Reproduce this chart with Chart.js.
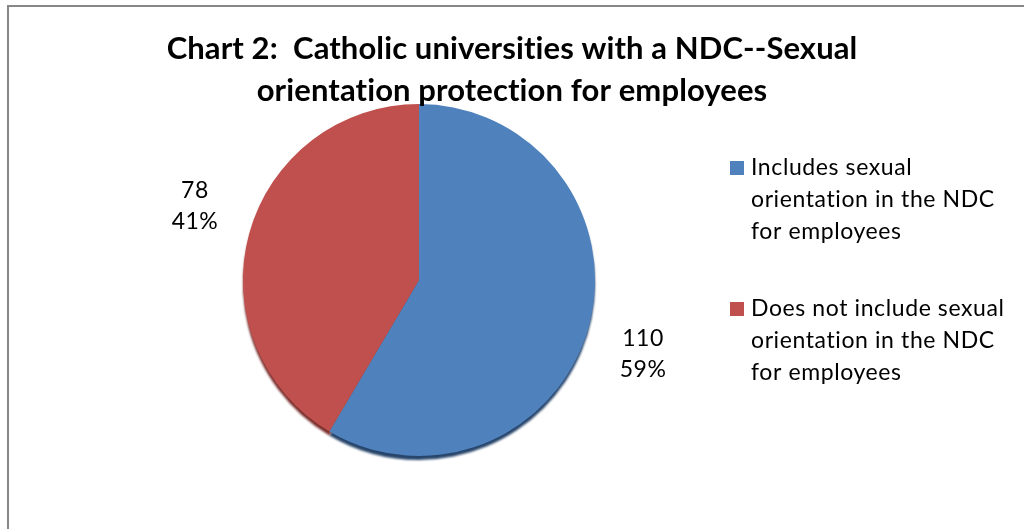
<!DOCTYPE html>
<html>
<head>
<meta charset="utf-8">
<script src="https://cdn.jsdelivr.net/npm/chart.js@4.4.0/dist/chart.umd.min.js"></script>
<style>
  html, body { margin: 0; padding: 0; background: #fff; }
  #wrap { position: relative; width: 1024px; height: 529px; overflow: hidden; }
  #frame { position: absolute; left: 7px; top: 5px; width: 1100px; height: 600px;
           border-left: 2px solid #878787; border-top: 2px solid #878787; pointer-events: none; }
</style>
</head>
<body>
<div id="wrap">
  <canvas id="pieChart"></canvas>
  <div id="frame"></div>
</div>
<script>
const titleLines = ['Chart 2:  Catholic universities with a NDC--Sexual', 'orientation protection for employees'];
const categories = [
  ['Includes sexual', 'orientation in the NDC', 'for employees'],
  ['Does not include sexual', 'orientation in the NDC', 'for employees']
];
const counts = [110, 78];
const sliceColors = ['#4F81BD', '#C0504D'];
const rimColors = ['#27456B', '#7A2E2C'];

const FONT = 'Lato, "Open Sans", sans-serif';
const total = counts.reduce((a, b) => a + b, 0);

// darker copy of each slice, nudged down, so the pie gets a thin 3D edge
const rimPlugin = {
    id: 'rim',
    beforeDatasetsDraw(chart) {
        const ctx = chart.ctx;
        const meta = chart.getDatasetMeta(0);
        ctx.save();
        ctx.filter = 'blur(1px)';
        meta.data.forEach((arc, i) => {
            ctx.beginPath();
            ctx.moveTo(arc.x, arc.y + 4);
            ctx.arc(arc.x, arc.y + 4, arc.outerRadius, arc.startAngle, arc.endAngle);
            ctx.closePath();
            ctx.fillStyle = rimColors[i];
            ctx.fill();
        });
        ctx.restore();
    }
};

// value + percent outside each slice (nudged a little clockwise, like Excel's best fit)
const sliceLabels = {
    id: 'sliceLabels',
    afterDatasetsDraw(chart) {
        const ctx = chart.ctx;
        const meta = chart.getDatasetMeta(0);
        ctx.save();
        ctx.font = '23px ' + FONT;
        ctx.letterSpacing = '0.5px';
        ctx.fillStyle = '#000';
        ctx.textAlign = 'center';
        ctx.textBaseline = 'middle';
        meta.data.forEach((arc, i) => {
            const mid = (arc.startAngle + arc.endAngle) / 2 + 3 * Math.PI / 180;
            const r = arc.outerRadius + 60;
            const x = arc.x + Math.cos(mid) * r;
            const y = arc.y + Math.sin(mid) * r;
            const pct = Math.round(counts[i] / total * 100) + '%';
            ctx.fillText(String(counts[i]), x, y - 15.5);
            ctx.fillText(pct, x, y + 15.5);
        });
        ctx.restore();
    }
};

// title and the wrapped legend on the right
const decor = {
    id: 'decor',
    afterDraw(chart) {
        const ctx = chart.ctx;
        ctx.save();
        ctx.fillStyle = '#000';
        ctx.textAlign = 'center';
        ctx.textBaseline = 'alphabetic';
        ctx.font = 'bold 31px ' + FONT;
        ctx.letterSpacing = '0.1px';
        titleLines.forEach((line, i) => ctx.fillText(line, chart.width / 2, 59 + i * 42));

        ctx.textAlign = 'left';
        ctx.font = '23px ' + FONT;
        ctx.letterSpacing = '0.6px';
        let base = 175;
        categories.forEach((lines, i) => {
            ctx.fillStyle = sliceColors[i];
            ctx.fillRect(730, base - 14, 14, 14);
            ctx.fillStyle = '#000';
            lines.forEach((line, j) => ctx.fillText(line, 751, base + j * 32));
            base += lines.length * 32 + 45;
        });
        ctx.restore();
    }
};

new Chart(document.getElementById('pieChart'), {
    type: 'pie',
    data: {
        labels: categories,
        datasets: [{
            data: counts,
            backgroundColor: sliceColors,
            borderWidth: 0
        }]
    },
    options: {
        responsive: true,
        maintainAspectRatio: false,
        animation: false,
        layout: { padding: { left: 243, right: 429, top: 104, bottom: 73 } },
        plugins: {
            legend: { display: false },
            title: { display: false },
            tooltip: { enabled: false }
        }
    },
    plugins: [rimPlugin, sliceLabels, decor]
});
</script>
</body>
</html>
